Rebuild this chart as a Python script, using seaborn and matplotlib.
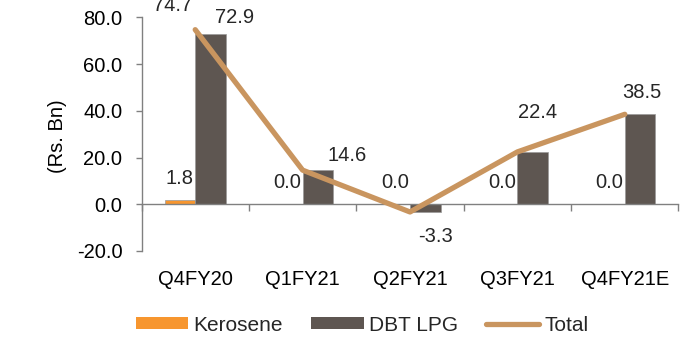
import numpy as np
import pandas as pd
import matplotlib
matplotlib.use("Agg")
import matplotlib.pyplot as plt
import seaborn as sns
from matplotlib.patches import Patch
from matplotlib.lines import Line2D

categories = ["Q4FY20", "Q1FY21", "Q2FY21", "Q3FY21", "Q4FY21E"]
kerosene = [1.8, 0.0, 0.0, 0.0, 0.0]
dbt_lpg = [72.9, 14.6, -3.3, 22.4, 38.5]
total = [74.7, 14.6, -3.3, 22.4, 38.5]
y_ticks = [-20, 0, 20, 40, 60, 80]

C_KER = "#F7962F"
C_DBT = "#5E5651"
C_TOT = "#C9955F"
AX_C = "#808080"
FS = 14.5
FS_LEG = 15

sns.set_theme(style="white")
plt.rcParams["font.family"] = ["Liberation Sans", "DejaVu Sans"]

fig = plt.figure(figsize=(6.91, 3.37), dpi=100)
ax = fig.add_axes([0.2048, 0.2552, 0.7771, 0.6935])

df = pd.DataFrame({
    "Quarter": categories * 2,
    "Series": ["Kerosene"] * len(categories) + ["DBT LPG"] * len(categories),
    "Value": kerosene + dbt_lpg,
})
sns.barplot(data=df, x="Quarter", y="Value", hue="Series",
            palette={"Kerosene": C_KER, "DBT LPG": C_DBT},
            width=0.57, gap=0, errorbar=None, legend=False, ax=ax,
            edgecolor="#9a9a9a", linewidth=0.5, saturation=1)

sns.lineplot(x=np.arange(len(categories)), y=total, color=C_TOT, linewidth=3.8,
             ax=ax, solid_capstyle="round", zorder=3)

# data labels
ker_bars = ax.containers[0]
dbt_bars = ax.containers[1]
for bar, v in zip(ker_bars, kerosene):
    xc = bar.get_x() + bar.get_width() / 2
    ax.annotate(f"{v:.1f}", xy=(xc, v), xytext=(0, 22), textcoords="offset pixels",
                ha="center", va="center", fontsize=FS, annotation_clip=False)
dbt_offsets = [(24, 16), (29, 15), (10, -25), (5, 39), (2, 22)]
for bar, v, off in zip(dbt_bars, dbt_lpg, dbt_offsets):
    xc = bar.get_x() + bar.get_width() / 2
    ax.annotate(f"{v:.1f}", xy=(xc, v), xytext=off, textcoords="offset pixels",
                ha="center", va="center", fontsize=FS, annotation_clip=False)
ax.annotate(f"{total[0]:.1f}", xy=(0, total[0]), xytext=(-23, 24), textcoords="offset pixels",
            ha="center", va="center", fontsize=FS, annotation_clip=False)

# axes styling
ax.set_ylim(y_ticks[0], y_ticks[-1])
ax.set_xlim(-0.5, len(categories) - 0.5)
ax.set_yticks(y_ticks)
ax.set_yticklabels([f"{t:.1f}" for t in y_ticks], fontsize=FS)
ax.set_xticks(range(len(categories)))
ax.set_xticklabels(categories, fontsize=FS)
ax.set_xticks(np.arange(-0.5, len(categories), 1), minor=True)

for s in ["top", "right"]:
    ax.spines[s].set_visible(False)
ax.spines["bottom"].set_position(("data", 0))
for s in ["left", "bottom"]:
    ax.spines[s].set_color(AX_C)
    ax.spines[s].set_linewidth(1.0)

ax.tick_params(axis="y", left=True, length=4.3, width=1, direction="out",
               color=AX_C, pad=9.4, labelsize=FS, labelcolor="black")
ax.tick_params(axis="x", which="major", bottom=True, length=0, pad=47.5,
               labelsize=FS, labelcolor="black")
ax.tick_params(axis="x", which="minor", bottom=True, length=5, width=1,
               direction="out", color=AX_C)

ax.set_xlabel("")
ax.set_ylabel("(Rs. Bn)", fontsize=FS, color="black")
ax.yaxis.set_label_coords(-0.139, 0.49)

handles = [Patch(facecolor=C_KER, edgecolor="none"),
           Patch(facecolor=C_DBT, edgecolor="none"),
           Line2D([0], [0], color=C_TOT, lw=3.8, solid_capstyle="round")]
fig.legend(handles, ["Kerosene", "DBT LPG", "Total"], loc="center",
           bbox_to_anchor=(0.524, 0.0356), ncol=3, frameon=False, fontsize=FS_LEG,
           handlelength=2.5, handleheight=0.53, handletextpad=0.27,
           columnspacing=1.36, borderpad=0)

fig.savefig("out.png", dpi=100)
